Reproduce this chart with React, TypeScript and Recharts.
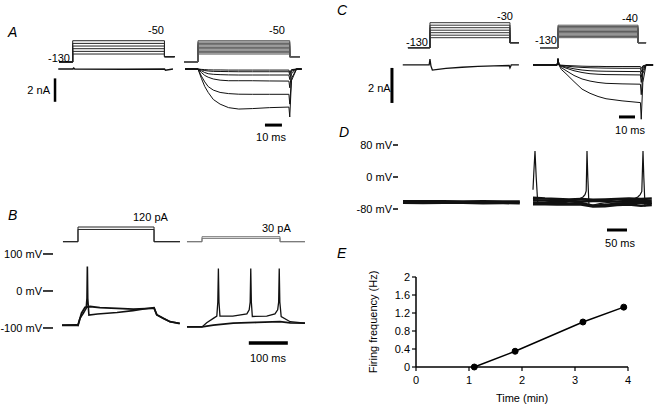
import React from "react";
import { LineChart, Line, XAxis, YAxis, ReferenceLine } from "recharts";

const FONT = '"Liberation Sans", Arial, Helvetica, sans-serif';

// ======================
// Panel A: voltage steps (mV) and currents (nA), time in ms from step onset
// ======================
const A_PROTOCOL = { start: -8, on: 0, off: 54, end: 60, hold: -130, tail: -110 };
const A_LEFT_STEPS = [-50, -60, -70, -80, -90, -100];
const A_RIGHT_STEPS = [-50, -55, -60, -65, -70, -75, -80, -85, -90, -95, -100];

const A_LEFT_TIME = [-8.5, 0, 0.6, 1.2, 30, 54, 54.6, 59];
const A_LEFT_CURRENT = [0, 0, 0.08, 0, -0.02, 0, -0.1, 0];

const A_RIGHT_TIME = [-7.6, 0, 2, 4, 6, 9, 13, 18, 24, 32, 42, 53.5, 54, 55, 58, 61];
const A_RIGHT_CURRENTS = [
  [0, 0, -0.8, -1.5, -2.0, -2.6, -3.0, -3.3, -3.42, -3.38, -3.3, -3.25, -4.1, -1.0, 0, 0],
  [0, 0, -0.6, -1.1, -1.5, -1.8, -2.0, -2.1, -2.15, -2.16, -2.16, -2.16, -3.0, -0.8, 0, 0],
  [0, 0, -0.3, -0.55, -0.7, -0.85, -0.95, -1.0, -1.0, -1.0, -1.02, -1.03, -1.6, -0.4, 0, 0],
  [0, 0, -0.15, -0.3, -0.4, -0.45, -0.48, -0.5, -0.51, -0.51, -0.51, -0.51, -0.9, -0.2, 0, 0],
  [0, 0, -0.07, -0.13, -0.17, -0.2, -0.21, -0.22, -0.23, -0.23, -0.23, -0.23, -0.5, -0.1, 0, 0],
  [0, 0, -0.03, -0.05, -0.07, -0.08, -0.08, -0.09, -0.09, -0.09, -0.09, -0.09, -0.3, -0.05, 0, 0],
];

// ======================
// Panel C
// ======================
const C_LEFT_PROTOCOL = { start: -13.75, on: 0, off: 50, end: 55.6, hold: -130, tail: -110 };
const C_RIGHT_PROTOCOL = { start: -11.25, on: 0, off: 50, end: 55, hold: -130, tail: -110 };
const C_LEFT_STEPS = [-30, -40, -50, -60, -70, -80, -90];
const C_RIGHT_STEPS = [-40, -45, -50, -55, -60, -65, -70, -75, -80, -85, -90];

const C_LEFT_TIME = [-17, -0.5, 0, 0.6, 1.5, 5, 10, 20, 30, 40, 49.5, 50, 50.8, 52, 55.6];
const C_LEFT_CURRENT = [0, 0, 0.34, -0.05, -0.29, -0.25, -0.2, -0.13, -0.08, -0.05, -0.03, -0.17, 0, 0, 0];

const C_RIGHT_TIME = [-15.6, -0.5, 0, 0.6, 2, 5, 10, 15, 20, 25, 30, 40, 51.5, 52, 53, 55, 59.4];
const C_RIGHT_CURRENTS = [
  [0, 0, 0.35, 0, -0.25, -0.5, -0.95, -1.38, -1.62, -1.8, -1.93, -2.05, -2.15, -3.1, -1.0, 0, 0],
  [0, 0, 0.35, 0, -0.15, -0.32, -0.6, -0.8, -0.92, -1.0, -1.05, -1.08, -1.1, -1.7, -0.5, 0, 0],
  [0, 0, 0.35, 0, -0.08, -0.18, -0.33, -0.43, -0.5, -0.53, -0.55, -0.56, -0.57, -1.0, -0.3, 0, 0],
  [0, 0, 0.35, 0, -0.05, -0.12, -0.22, -0.29, -0.33, -0.35, -0.36, -0.37, -0.38, -0.7, -0.2, 0, 0],
  [0, 0, 0.35, 0, -0.03, -0.06, -0.11, -0.14, -0.16, -0.17, -0.18, -0.19, -0.19, -0.4, -0.1, 0, 0],
  [0, 0, 0.35, 0, -0.01, -0.03, -0.05, -0.07, -0.08, -0.08, -0.09, -0.09, -0.09, -0.2, -0.05, 0, 0],
];

// ======================
// Panel D: membrane potential (mV), time in ms
// ======================
const D_TICKS = [-80, 0, 80];
const D_LEFT_TIME = [0, 50, 100, 150, 200, 250, 292];
const D_LEFT_TRACES = [
  [-61, -61.5, -61, -62, -61.5, -62, -62],
  [-64, -64.5, -64, -64, -65, -64.5, -65],
];

const D_SPIKE_TIME = [0, 2, 5, 8, 12, 20, 40, 70, 100, 115, 125, 130, 133, 135, 137, 140, 150, 170, 200, 230, 250, 262, 268, 272, 275, 277, 280, 290, 297];
const D_SPIKE_V = [-32, 10, 65, 0, -68, -66, -62, -60, -58, -55, -50, -44, -35, 65, 0, -72, -70, -66, -62, -60, -56, -50, -44, -36, 65, 0, -72, -68, -66];

const D_FLAT_TIME = [0, 30, 60, 90, 120, 150, 180, 210, 240, 270, 297];
const D_FLAT_TRACES = [
  [-52, -54, -55, -56, -55, -57, -56, -55, -54, -55, -54],
  [-58, -59, -60, -60, -61, -60, -60, -61, -60, -60, -60],
  [-64, -65, -64, -66, -65, -72, -70, -66, -65, -64, -65],
  [-68, -68, -69, -68, -69, -74, -73, -70, -69, -72, -70],
];

// ======================
// Panel B: current steps (pA) and membrane potential (mV)
// ======================
const B_TICKS = [-100, 0, 100];
const B_LEFT_PROTOCOL = { start: -38.5, on: 0, off: 195, end: 261.5, hold: 0, tail: 0 };
const B_RIGHT_PROTOCOL = { start: -38.5, on: 0, off: 200, end: 264, hold: 0, tail: 0 };
const B_LEFT_STEPS = [120, 100];
const B_RIGHT_STEPS = [30, 20];

const B_LEFT_SPIKE_TIME = [-41, -5, 0, 5, 14, 21, 23, 24, 25, 28, 50, 100, 141, 185, 195, 202, 219, 236, 261];
const B_LEFT_SPIKE_V = [-92, -92, -92, -74, -60, -47, -20, 66, -20, -65, -62, -58, -53, -46, -45, -65, -74, -83, -87];
const B_LEFT_FLAT_TIME = [-41, -5, 0, 9, 18, 31, 56, 100, 142, 189, 195, 202, 219, 236, 261];
const B_LEFT_FLAT_V = [-93, -92, -93, -60, -44, -42, -45, -47, -49, -47, -46, -64, -74, -83, -88];

const B_RIGHT_SPIKE_TIME = [-38.5, 0, 12, 29, 38, 40.5, 42, 43.5, 46, 79, 115, 121, 123.5, 125, 126.5, 129, 166, 187, 194, 196.5, 198, 199.5, 203, 226, 264];
const B_RIGHT_SPIKE_V = [-97, -97, -86, -74, -68, -30, 61, -30, -68, -68, -62, -51, -30, 61, -30, -69, -68, -62, -51, -30, 61, -30, -69, -83, -87];
const B_RIGHT_FLAT_TIME = [-38.5, 0, 29, 80, 140, 200, 226, 264];
const B_RIGHT_FLAT_V = [-97, -97, -92, -87, -85, -83, -86, -87];

// ======================
// Panel E: firing frequency over time
// ======================
const E_TIME = [1.1, 1.87, 3.15, 3.92];
const E_FREQ = [0, 0.35, 1.0, 1.33];
const E_X_TICKS = [0, 1, 2, 3, 4];
const E_Y_TICKS = [0, 0.4, 0.8, 1.2, 1.6, 2];

type Pt = { t: number; y: number };
type Trace = { pts: Pt[]; axis: "v" | "i"; color: string; width: number };
type Bar = { a: Pt; b: Pt; axis: "v" | "i"; width: number };

const zip = (times: number[], vals: number[]): Pt[] => times.map((t, k) => ({ t, y: vals[k] }));

const trace = (times: number[], vals: number[], axis: "v" | "i", color = "#111", width = 1): Trace => ({
  pts: zip(times, vals),
  axis,
  color,
  width,
});

// step protocol drawn as hold -> level -> tail
const stepTraces = (p: typeof A_PROTOCOL, levels: number[], color: string, axis: "v" | "i" = "v"): Trace[] =>
  levels.map((lv) => ({
    pts: [
      { t: p.start, y: p.hold },
      { t: p.on, y: p.hold },
      { t: p.on, y: lv },
      { t: p.off, y: lv },
      { t: p.off, y: p.tail },
      { t: p.end, y: p.tail },
    ],
    axis,
    color,
    width: 1,
  }));

// plain svg tick so long labels like "-100 mV" never wrap
const MvTick = ({ x, y, payload, textAnchor }: any) => (
  <text x={x} y={y} dy="0.35em" textAnchor={textAnchor || "end"} fontSize={11} fill="#000" fontFamily={FONT}>
    {`${payload.value} mV`}
  </text>
);

function Sweep({
  left,
  top,
  width,
  height,
  tDomain,
  vDomain,
  iDomain = [-1, 1],
  traces,
  bars = [],
  vTicks,
  axisWidth = 0,
  tickSize = 5,
}: {
  left: number;
  top: number;
  width: number;
  height: number;
  tDomain: [number, number];
  vDomain: [number, number];
  iDomain?: [number, number];
  traces: Trace[];
  bars?: Bar[];
  vTicks?: number[];
  axisWidth?: number;
  tickSize?: number;
}) {
  return (
    <div style={{ position: "absolute", left, top, width, height }}>
      <LineChart width={width} height={height} margin={{ top: 0, right: 0, bottom: 0, left: 0 }}>
        <XAxis dataKey="t" type="number" domain={tDomain} allowDataOverflow hide height={0} />
        {/* hidden current axis gets zero width so it does not push the mV axis */}
        <YAxis yAxisId="i" type="number" domain={iDomain} allowDataOverflow hide width={0} />
        <YAxis
          yAxisId="v"
          type="number"
          domain={vDomain}
          allowDataOverflow
          hide={!vTicks}
          width={axisWidth}
          ticks={vTicks}
          interval={0}
          axisLine={false}
          tickSize={tickSize}
          tickMargin={1}
          tickLine={{ stroke: "#000", strokeWidth: 1.5 }}
          tick={<MvTick />}
        />
        {traces.map((tr, k) => (
          <Line
            key={k}
            data={tr.pts}
            dataKey="y"
            yAxisId={tr.axis}
            type="linear"
            stroke={tr.color}
            strokeWidth={tr.width}
            dot={false}
            activeDot={false}
            isAnimationActive={false}
          />
        ))}
        {bars.map((b, k) => (
          <ReferenceLine
            key={`bar-${k}`}
            yAxisId={b.axis}
            segment={[
              { x: b.a.t, y: b.a.y },
              { x: b.b.t, y: b.b.y },
            ]}
            stroke="#000"
            strokeWidth={b.width}
            ifOverflow="visible"
          />
        ))}
      </LineChart>
    </div>
  );
}

// text placed by its anchor point without fractional transforms
function Txt({ x, y, text, anchor = "start", italic = false, size = 11 }: any) {
  const box = 120;
  const left = anchor === "end" ? x - box : anchor === "middle" ? x - box / 2 : x;
  return (
    <div
      style={{
        position: "absolute",
        left,
        top: Math.round(y - size / 2),
        width: box,
        height: size,
        textAlign: anchor === "end" ? "right" : anchor === "middle" ? "center" : "left",
        fontFamily: FONT,
        fontSize: size,
        fontStyle: italic ? "italic" : "normal",
        whiteSpace: "nowrap",
        lineHeight: `${size}px`,
        color: "#000",
      }}
    >
      {text}
    </div>
  );
}

const LABELS = [
  { x: 8, y: 32, text: "A", italic: true, size: 14 },
  { x: 70, y: 58, text: "-130", anchor: "end" },
  { x: 148, y: 30, text: "-50" },
  { x: 269, y: 30, text: "-50" },
  { x: 50, y: 90, text: "2 nA", anchor: "end" },
  { x: 271, y: 137, text: "10 ms", anchor: "middle" },
  { x: 8, y: 215, text: "B", italic: true, size: 14 },
  { x: 133, y: 217, text: "120 pA" },
  { x: 262, y: 228, text: "30 pA" },
  { x: 268, y: 358, text: "100 ms", anchor: "middle" },
  { x: 337, y: 10, text: "C", italic: true, size: 14 },
  { x: 428, y: 42, text: "-130", anchor: "end" },
  { x: 497, y: 16, text: "-30" },
  { x: 557, y: 40, text: "-130", anchor: "end" },
  { x: 622, y: 18, text: "-40" },
  { x: 368, y: 88, text: "2 nA" },
  { x: 630, y: 130, text: "10 ms", anchor: "middle" },
  { x: 339, y: 132, text: "D", italic: true, size: 14 },
  { x: 620, y: 243, text: "50 ms", anchor: "middle" },
  { x: 337, y: 253, text: "E", italic: true, size: 14 },
];

export default function App() {
  const eData = E_TIME.map((t, k) => ({ t, f: E_FREQ[k] }));

  const aV: [number, number] = [-385.6, 27.9];
  const aI: [number, number] = [-5.21, 4.19];
  const cV: [number, number] = [-439.2, 20.8];
  const cI: [number, number] = [-3.43, 3.14];
  const dV: [number, number] = [-182.5, 105];
  const bV: [number, number] = [-159.5, 245.9];

  return (
    <div style={{ position: "absolute", left: 0, top: 0, width: 657, height: 409, background: "#fff", overflow: "hidden" }}>
      {/* A left */}
      <Sweep
        left={45}
        top={20}
        width={130}
        height={110}
        tDomain={[-16.3, 60.2]}
        vDomain={aV}
        iDomain={aI}
        traces={[...stepTraces(A_PROTOCOL, A_LEFT_STEPS, "#222"), trace(A_LEFT_TIME, A_LEFT_CURRENT, "i", "#111", 1.5)]}
        bars={[{ a: { t: -10.4, y: -0.8 }, b: { t: -10.4, y: -2.8 }, axis: "i", width: 2.5 }]}
      />
      {/* A right */}
      <Sweep
        left={181}
        top={20}
        width={130}
        height={110}
        tDomain={[-10, 66.5]}
        vDomain={aV}
        iDomain={aI}
        traces={[
          ...stepTraces(A_PROTOCOL, A_RIGHT_STEPS, "#555"),
          ...A_RIGHT_CURRENTS.map((c) => trace(A_RIGHT_TIME, c, "i")),
        ]}
        bars={[{ a: { t: 39.4, y: -4.79 }, b: { t: 49.4, y: -4.79 }, axis: "i", width: 3 }]}
      />

      {/* C left */}
      <Sweep
        left={385}
        top={10}
        width={140}
        height={115}
        tDomain={[-28.1, 59.4]}
        vDomain={cV}
        iDomain={cI}
        traces={[...stepTraces(C_LEFT_PROTOCOL, C_LEFT_STEPS, "#333"), trace(C_LEFT_TIME, C_LEFT_CURRENT, "i", "#111", 1.3)]}
        bars={[{ a: { t: -23.75, y: -0.17 }, b: { t: -23.75, y: -2.17 }, axis: "i", width: 3 }]}
      />
      {/* C right */}
      <Sweep
        left={530}
        top={10}
        width={125}
        height={115}
        tDomain={[-17.5, 60.6]}
        vDomain={cV}
        iDomain={cI}
        traces={[
          ...stepTraces(C_RIGHT_PROTOCOL, C_RIGHT_STEPS, "#555"),
          ...C_RIGHT_CURRENTS.map((c) => trace(C_RIGHT_TIME, c, "i")),
        ]}
        bars={[{ a: { t: 38.1, y: -2.97 }, b: { t: 48.1, y: -2.97 }, axis: "i", width: 3 }]}
      />

      {/* D left */}
      <Sweep
        left={340}
        top={135}
        width={185}
        height={115}
        tDomain={[-12.5, 305]}
        vDomain={dV}
        vTicks={D_TICKS}
        axisWidth={58}
        tickSize={5}
        traces={D_LEFT_TRACES.map((v) => trace(D_LEFT_TIME, v, "v", "#111", 3))}
      />
      {/* D right */}
      <Sweep
        left={530}
        top={135}
        width={125}
        height={115}
        tDomain={[-7.5, 305]}
        vDomain={dV}
        traces={[
          ...D_FLAT_TRACES.map((v) => trace(D_FLAT_TIME, v, "v", "#111", 2.5)),
          trace(D_SPIKE_TIME, D_SPIKE_V, "v", "#111", 1.2),
        ]}
        bars={[{ a: { t: 185, y: -132.5 }, b: { t: 235, y: -132.5 }, axis: "v", width: 3 }]}
      />

      {/* B left */}
      <Sweep
        left={0}
        top={200}
        width={185}
        height={150}
        tDomain={[-64.1, 274.4]}
        vDomain={bV}
        iDomain={[-884, 340.4]}
        vTicks={B_TICKS}
        axisWidth={53}
        tickSize={10}
        traces={[
          ...stepTraces(B_LEFT_PROTOCOL, B_LEFT_STEPS, "#222", "i"),
          trace(B_LEFT_FLAT_TIME, B_LEFT_FLAT_V, "v", "#111", 1.8),
          trace(B_LEFT_SPIKE_TIME, B_LEFT_SPIKE_V, "v", "#111", 1.6),
        ]}
      />
      {/* B right */}
      <Sweep
        left={182}
        top={200}
        width={130}
        height={150}
        tDomain={[-51.3, 282]}
        vDomain={bV}
        iDomain={[-648.5, 249.7]}
        traces={[
          ...stepTraces(B_RIGHT_PROTOCOL, B_RIGHT_STEPS, "#777", "i"),
          trace(B_RIGHT_FLAT_TIME, B_RIGHT_FLAT_V, "v", "#111", 1.8),
          trace(B_RIGHT_SPIKE_TIME, B_RIGHT_SPIKE_V, "v", "#111", 1.3),
        ]}
        bars={[{ a: { t: 120, y: -140.5 }, b: { t: 220, y: -140.5 }, axis: "v", width: 3.5 }]}
      />

      {/* E */}
      <div style={{ position: "absolute", left: 340, top: 268 }}>
        <LineChart width={300} height={140} data={eData} margin={{ top: 9, right: 12, bottom: 6, left: 0 }}>
          <XAxis
            dataKey="t"
            type="number"
            domain={[0, 4]}
            ticks={E_X_TICKS}
            interval={0}
            height={35}
            tickSize={4}
            tickMargin={5}
            axisLine={{ stroke: "#000", strokeWidth: 1.5 }}
            tickLine={{ stroke: "#000", strokeWidth: 1.2 }}
            tick={{ fontSize: 11, fill: "#000", fontFamily: FONT }}
            label={{ value: "Time (min)", position: "insideBottom", offset: 0, style: { fontSize: 11, fill: "#000", fontFamily: FONT } }}
          />
          <YAxis
            type="number"
            domain={[0, 2]}
            ticks={E_Y_TICKS}
            interval={0}
            width={76}
            tickSize={4}
            tickMargin={2}
            axisLine={{ stroke: "#000", strokeWidth: 1.5 }}
            tickLine={{ stroke: "#000", strokeWidth: 1.2 }}
            tick={{ fontSize: 11, fill: "#000", fontFamily: FONT }}
            label={{
              value: "Firing frequency (Hz)",
              angle: -90,
              position: "insideLeft",
              offset: 33,
              style: { fontSize: 11, fill: "#000", fontFamily: FONT, textAnchor: "middle" },
            }}
          />
          <Line
            dataKey="f"
            type="linear"
            stroke="#000"
            strokeWidth={1.5}
            dot={{ r: 3, fill: "#000", stroke: "#000", strokeWidth: 1 }}
            activeDot={false}
            isAnimationActive={false}
          />
        </LineChart>
      </div>

      {LABELS.map((l, k) => (
        <Txt key={k} {...l} />
      ))}
    </div>
  );
}
